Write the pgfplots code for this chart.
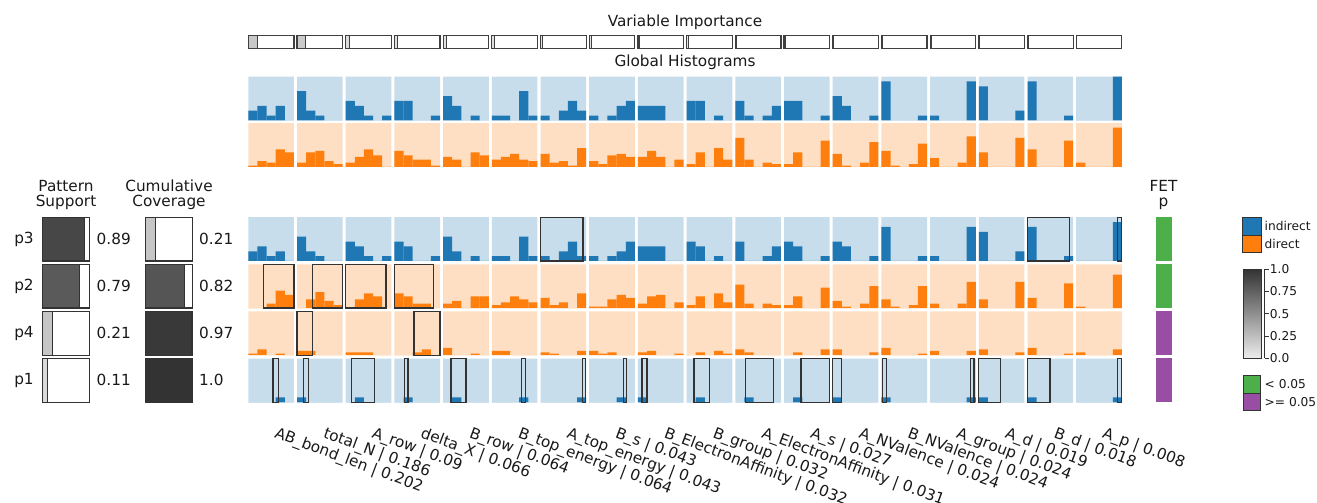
\documentclass[border=0pt]{standalone}
\usepackage{pgfplots}
\pgfplotsset{compat=1.18}
\usepackage{pgfplotstable}
\usepackage{fontspec}
\setmainfont{DejaVu Sans}
\definecolor{tabblue}{HTML}{1F77B4}
\definecolor{taborange}{HTML}{FF7F0E}
\definecolor{bgblue}{HTML}{C7DDEC}
\definecolor{bgorange}{HTML}{FFDFC3}
\definecolor{fetgreen}{HTML}{4DAF4A}
\definecolor{fetpurple}{HTML}{984EA3}
\newcommand\mainfont{\fontsize{15.3}{18}\selectfont}
\newcommand\smallfont{\fontsize{12.2}{15}\selectfont}

% global indirect (counts out of 9)
\pgfplotstableread{
c b0 b1 b2 b3 b4
0 2 3 1 3 0
1 6 2 1 0 0
2 4 3 1 0 1
3 4 4 0 0 1
4 5 3 0 1 0
5 1 1 0 6 1
6 1 0 2 4 2
7 1 0 1 3 4
8 3 3 3 0 0
9 4 4 0 1 0
10 4 1 0 1 3
11 4 4 0 0 1
12 5 3 0 0 1
13 8 0 0 0 1
14 1 0 0 0 8
15 7 0 0 0 2
16 8 0 0 0 1
17 0 0 0 0 9
}\gblue
% global direct (counts out of 30)
\pgfplotstableread{
c b0 b1 b2 b3 b4
0 1 4 3 12 10
1 3 10 11 4 2
2 3 7 12 8 0
3 11 8 5 5 1
4 7 5 0 10 8
5 5 7 9 5 4
6 9 3 4 1 13
7 4 2 8 9 7
8 7 11 7 0 5
9 2 10 0 13 5
10 20 5 0 3 2
11 2 10 0 0 18
12 9 1 0 3 17
13 11 1 0 2 16
14 6 0 0 3 21
15 10 0 0 0 20
16 12 0 0 0 18
17 3 0 0 0 27
}\gorange
% p3 (indirect)
\pgfplotstableread{
c b0 b1 b2 b3 b4
0 2 3 1 2 0
1 5 2 1 0 0
2 4 3 1 0 1
3 4 3 0 0 1
4 5 2 0 1 0
5 1 1 0 5 1
6 1 0 2 4 1
7 1 0 1 2 4
8 3 3 3 0 0
9 4 3 0 1 0
10 4 0 0 1 3
11 4 3 0 0 1
12 4 3 0 0 1
13 7 0 0 0 1
14 1 0 0 0 7
15 6 0 0 0 2
16 7 0 0 0 1
17 0 0 0 0 8
}\pthree
% p2 (direct)
\pgfplotstableread{
c b0 b1 b2 b3 b4
0 0 0 3 12 9
1 0 6 11 5 2
2 0 6 10 8 0
3 10 8 3 3 0
4 3 5 0 8 8
5 2 4 8 6 4
6 7 2 4 0 10
7 1 1 6 9 7
8 3 8 9 0 4
9 2 8 0 10 4
10 16 3 0 3 2
11 2 8 0 0 14
12 5 1 0 3 15
13 6 1 0 2 15
14 3 0 0 3 18
15 6 0 0 0 18
16 7 0 0 0 17
17 1 0 0 0 23
}\ptwo
% p4 (direct)
\pgfplotstableread{
c b0 b1 b2 b3 b4
0 1 4 0 1 0
1 3 3 0 0 0
2 2 2 2 0 0
3 0 0 2 4 0
4 5 0 0 1 0
5 3 3 0 0 0
6 2 1 0 0 3
7 3 1 2 0 0
8 2 3 0 0 1
9 0 2 0 3 1
10 4 2 0 0 0
11 0 2 0 0 4
12 4 0 0 0 2
13 5 0 0 0 1
14 3 0 0 0 3
15 4 0 0 0 2
16 5 0 0 0 1
17 2 0 0 0 4
}\pfour
% p1 (indirect)
\pgfplotstableread{
c b0 b1 b2 b3 b4
0 0 0 0 1 0
1 1 0 0 0 0
2 0 1 0 0 0
3 0 1 0 0 0
4 0 1 0 0 0
5 0 0 0 1 0
6 0 0 0 0 1
7 0 0 0 1 0
8 1 0 0 0 0
9 0 1 0 0 0
10 0 1 0 0 0
11 0 1 0 0 0
12 1 0 0 0 0
13 1 0 0 0 0
14 0 0 0 0 1
15 1 0 0 0 0
16 1 0 0 0 0
17 0 0 0 0 1
}\pone

\pgfplotsset{
  rowax/.style={scale only axis, width=876.6pt, height=43.8pt, xmin=0, xmax=18, ymin=0,
    hide axis, clip=false, anchor=south west},
  bgbar/.style={ybar, bar width=0.938, bar shift=0pt, draw=none, fill=#1},
  histbar/.style={ybar, bar width=0.1876, bar shift=0pt, draw=none, fill=#1},
  boxsty/.style={draw=black!80, line width=1.3pt, line join=miter, fill=none},
  panelax/.style={scale only axis, hide axis, anchor=south west, width=47pt, height=188.4pt,
    xmin=0, xmax=1, ymin=0, ymax=4, clip=false},
}

\newcommand\histrow[4]{%
  \addplot[bgbar=#3] table[x expr=\thisrow{c}+0.469, y expr=#2] {#1};
  \pgfplotsinvokeforeach{0,...,4}{%
    \addplot[histbar=#4] table[x expr=\thisrow{c}+0.0938+##1*0.1876, y=b##1] {#1};}%
}
\newcommand\pbox[4]{%
  \pgfmathsetmacro\xa{#1+#2*0.938}%
  \pgfmathsetmacro\xb{#1+#3*0.938}%
  \edef\tmp{\noexpand\addplot[boxsty] coordinates {(\xa,0) (\xb,0) (\xb,#4) (\xa,#4)} -- cycle;}%
  \tmp}
\newcommand\ibox[2]{%
  \pgfmathsetmacro\xa{#1}%
  \pgfmathsetmacro\xb{#1+#2*0.938}%
  \pgfmathsetmacro\xc{#1+0.938}%
  \pgfmathsetmacro\pc{7+73*#2}%
  \edef\tmp{\noexpand\addplot[fill=black!\pc!white, draw=black!75, line width=0.8pt] coordinates {(\xa,0) (\xb,0) (\xb,1) (\xa,1)} -- cycle;
  \noexpand\addplot[draw=black!75, line width=1.2pt, line join=miter] coordinates {(\xa,0) (\xc,0) (\xc,1) (\xa,1)} -- cycle;}%
  \tmp}
\newcommand\lbox[2]{%
  \pgfmathsetmacro\ya{#1}%
  \pgfmathsetmacro\yb{#1+0.93}%
  \pgfmathsetmacro\pc{7+73*#2}%
  \edef\tmp{\noexpand\addplot[fill=black!\pc!white, draw=black!80, line width=1pt] coordinates {(0,\ya) (#2,\ya) (#2,\yb) (0,\yb)} -- cycle;
  \noexpand\addplot[draw=black!80, line width=1.2pt, line join=miter] coordinates {(0,\ya) (1,\ya) (1,\yb) (0,\yb)} -- cycle;}%
  \tmp}

\begin{document}
\begin{tikzpicture}[x=1pt, y=1pt, every node/.style={font=\mainfont, text=black!90}]
\useasboundingbox (0,0) rectangle (1317,503);

\node[anchor=base] at (685,476.3) {Variable Importance};
\node[anchor=base] at (685,436.3) {Global Histograms};

% variable importance
\begin{axis}[rowax, at={(248.3pt,454.7pt)}, height=12.6pt, ymax=1]
\ibox{0}{0.202}\ibox{1}{0.186}\ibox{2}{0.09}\ibox{3}{0.066}\ibox{4}{0.064}\ibox{5}{0.064}
\ibox{6}{0.043}\ibox{7}{0.043}\ibox{8}{0.032}\ibox{9}{0.032}\ibox{10}{0.031}\ibox{11}{0.027}
\ibox{12}{0.024}\ibox{13}{0.024}\ibox{14}{0.024}\ibox{15}{0.019}\ibox{16}{0.018}\ibox{17}{0.008}
\end{axis}

% global histograms
\begin{axis}[rowax, at={(248.3pt,382.6pt)}, ymax=9]
\histrow{\gblue}{9}{bgblue}{tabblue}
\end{axis}
\begin{axis}[rowax, at={(248.3pt,336.0pt)}, ymax=30]
\histrow{\gorange}{30}{bgorange}{taborange}
\end{axis}

% p3
\begin{axis}[rowax, at={(248.3pt,242.0pt)}, ymax=9]
\histrow{\pthree}{9}{bgblue}{tabblue}
\pbox{6}{0}{0.93}{9}\pbox{16}{0}{0.92}{9}\pbox{17}{0.905}{0.99}{9}
\end{axis}
% p2
\begin{axis}[rowax, at={(248.3pt,194.9pt)}, ymax=30]
\histrow{\ptwo}{30}{bgorange}{taborange}
\pbox{0}{0.33}{1.0}{30}\pbox{1}{0.34}{1.0}{30}\pbox{2}{0}{0.88}{30}\pbox{3}{0}{0.85}{30}
\end{axis}
% p4
\begin{axis}[rowax, at={(248.3pt,147.8pt)}, ymax=30]
\histrow{\pfour}{30}{bgorange}{taborange}
\pbox{1}{0}{0.34}{30}\pbox{3}{0.43}{1.0}{30}
\end{axis}
% p1
\begin{axis}[rowax, at={(248.3pt,100.7pt)}, ymax=9]
\histrow{\pone}{9}{bgblue}{tabblue}
\pbox{0}{0.54}{0.66}{9}\pbox{1}{0.14}{0.25}{9}\pbox{2}{0.12}{0.63}{9}\pbox{3}{0.22}{0.30}{9}
\pbox{4}{0.17}{0.50}{9}\pbox{5}{0.65}{0.74}{9}\pbox{6}{0.92}{0.99}{9}\pbox{7}{0.75}{0.82}{9}
\pbox{8}{0.09}{0.20}{9}\pbox{9}{0.16}{0.50}{9}\pbox{10}{0.22}{0.84}{9}\pbox{11}{0.37}{1.0}{9}
\pbox{12}{0}{0.19}{9}\pbox{13}{0.02}{0.11}{9}\pbox{14}{0.88}{0.96}{9}\pbox{15}{0}{0.48}{9}
\pbox{16}{0}{0.49}{9}\pbox{17}{0.905}{0.99}{9}
\end{axis}

% bottom labels
\foreach \i/\t in {0/AB\_bond\_len | 0.202, 1/total\_N | 0.186, 2/A\_row | 0.09,
  3/delta\_X | 0.066, 4/B\_row | 0.064, 5/B\_top\_energy | 0.064, 6/A\_top\_energy | 0.043,
  7/B\_s | 0.043, 8/B\_ElectronAffinity | 0.032, 9/B\_group | 0.032,
  10/A\_ElectronAffinity | 0.031, 11/A\_s | 0.027, 12/A\_NValence | 0.024,
  13/B\_NValence | 0.024, 14/A\_group | 0.024, 15/A\_d | 0.019, 16/B\_d | 0.018, 17/A\_p | 0.008}
  {\node[anchor=north west, rotate=-20.5, inner sep=0pt] at ({248.3+48.7*\i+29.5}, 77) {\t};}

% left panels
\node[anchor=base] at (66,311.3) {Pattern};
\node[anchor=base] at (66,296.5) {Support};
\node[anchor=base] at (169,311.3) {Cumulative};
\node[anchor=base] at (169,296.5) {Coverage};
\begin{axis}[panelax, at={(42.3pt,100.7pt)}]
\lbox{3}{0.89}\lbox{2}{0.79}\lbox{1}{0.21}\lbox{0}{0.11}
\end{axis}
\begin{axis}[panelax, at={(145.7pt,100.7pt)}]
\lbox{3}{0.21}\lbox{2}{0.82}\lbox{1}{0.97}\lbox{0}{1.0}
\end{axis}
\node at (24,263.9) {p3};
\node at (24,216.8) {p2};
\node at (24,169.7) {p4};
\node at (24,122.6) {p1};
\node[anchor=west, inner sep=0pt] at (96.5,263.9) {0.89};
\node[anchor=west, inner sep=0pt] at (96.5,216.8) {0.79};
\node[anchor=west, inner sep=0pt] at (96.5,169.7) {0.21};
\node[anchor=west, inner sep=0pt] at (96.5,122.6) {0.11};
\node[anchor=west, inner sep=0pt] at (199,263.9) {0.21};
\node[anchor=west, inner sep=0pt] at (199,216.8) {0.82};
\node[anchor=west, inner sep=0pt] at (199,169.7) {0.97};
\node[anchor=west, inner sep=0pt] at (199,122.6) {1.0};

% FET
\node[anchor=base] at (1163.5,311.3) {FET};
\node[anchor=base] at (1163.5,296.5) {p};
\begin{axis}[panelax, at={(1155.7pt,100.7pt)}, width=16pt]
\addplot[fill=fetgreen, draw=none] coordinates {(0,3) (1,3) (1,3.93) (0,3.93)} -- cycle;
\addplot[fill=fetgreen, draw=none] coordinates {(0,2) (1,2) (1,2.93) (0,2.93)} -- cycle;
\addplot[fill=fetpurple, draw=none] coordinates {(0,1) (1,1) (1,1.93) (0,1.93)} -- cycle;
\addplot[fill=fetpurple, draw=none] coordinates {(0,0) (1,0) (1,0.93) (0,0.93)} -- cycle;
\end{axis}

% legend
\filldraw[fill=tabblue, draw=black!80, line width=0.8pt] (1242.7,268) rectangle (1261,285.3);
\filldraw[fill=taborange, draw=black!80, line width=0.8pt] (1242.7,250.7) rectangle (1261,268);
\node[anchor=west, font=\smallfont, inner sep=0pt] at (1264.5,277) {indirect};
\node[anchor=west, font=\smallfont, inner sep=0pt] at (1264.5,259.5) {direct};

% colorbar
\begin{axis}[scale only axis, at={(1243.3pt,144.7pt)}, anchor=south west, width=21.4pt, height=89pt,
  xmin=0, xmax=1, ymin=0, ymax=1, axis x line=none, axis y line=right, clip=false,
  ytick={0,0.25,0.5,0.75,1}, yticklabels={0.0,0.25,0.5,0.75,1.0},
  tick align=outside, major tick length=4pt, tick style={black!80, line width=0.8pt},
  y axis line style={-, black!80, line width=0.8pt},
  yticklabel style={font=\smallfont, inner sep=1pt}]
\shade[top color=black!80!white, bottom color=black!7!white, draw=black!80, line width=0.8pt]
  (axis cs:0,0) rectangle (axis cs:0.83,1);
\end{axis}

\filldraw[fill=fetgreen, draw=black!80, line width=0.8pt] (1243.3,109.7) rectangle (1260.7,127.3);
\filldraw[fill=fetpurple, draw=black!80, line width=0.8pt] (1243.3,93) rectangle (1260.7,109.7);
\node[anchor=west, font=\smallfont, inner sep=0pt] at (1264.5,118.5) {< 0.05};
\node[anchor=west, font=\smallfont, inner sep=0pt] at (1264.5,101.3) {>= 0.05};
\end{tikzpicture}
\end{document}
